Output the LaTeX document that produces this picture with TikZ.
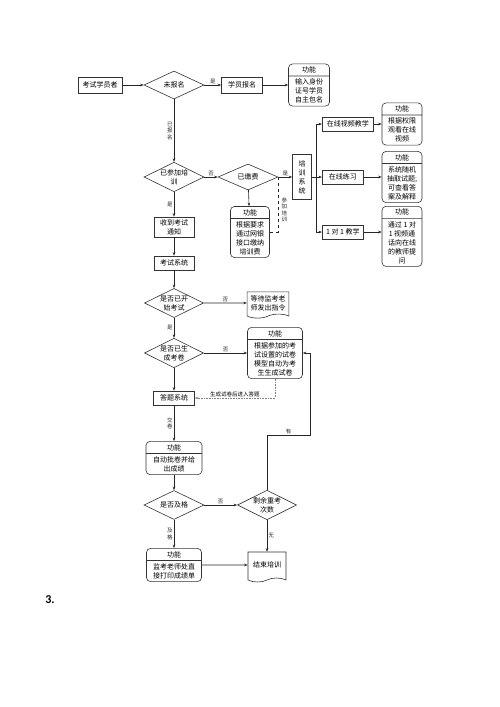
\documentclass[tikz,border=0pt]{standalone}
\usepackage{fontspec}
\setmainfont{Noto Sans CJK SC}
\newfontfamily\numfont{Carlito}
\usetikzlibrary{shapes.geometric,shapes.multipart,shapes.symbols,arrows.meta}
\begin{document}
\begin{tikzpicture}[x=1pt,y=-1pt,>={Stealth[length=3.5pt,width=2.6pt]},font=\fontsize{7}{9}\selectfont]
\useasboundingbox (0,0) rectangle (500,707);
\tikzstyle{s}=[rectangle, draw=black!80, line width=0.6pt, align=center, inner sep=1pt, minimum height=14pt];
\tikzstyle{dia}=[diamond, draw=black!80, line width=0.6pt, align=center, inner sep=0pt, minimum width=60pt, minimum height=28pt, aspect=2];
\tikzstyle{fn}=[rectangle split, rectangle split parts=2, draw=black!80, line width=0.6pt, rounded corners=4pt, align=center, inner xsep=2pt, inner ysep=2.5pt, minimum width=41pt];
\tikzstyle{doc}=[tape, tape bend top=none, tape bend height=4pt, draw=black!80, line width=0.6pt, align=center, minimum width=39pt];
\tikzstyle{lab}=[font=\fontsize{5.5}{6.5}\selectfont, align=center, inner sep=1pt];
\tikzstyle{ln}=[line width=0.6pt, black!85];
\node [s, minimum width=44pt, minimum height=16pt] (v1) at (100,85) {考试学员者};
\node [dia] (v2) at (174,85) {未报名};
\node [s, minimum width=41pt, minimum height=16pt] (v3) at (242,85) {学员报名};
\node [fn] (f1) at (309,85) {功能 \nodepart{two} 输入身份\\证号学员\\自主包名};
\node [dia, minimum height=26pt] (v4) at (174,177) {已参加培\\训};
\node [dia, minimum height=26pt] (v5) at (248,177) {已缴费};
\node [fn, minimum width=39pt] (f2) at (250,232) {功能 \nodepart{two} 根据要求\\通过网银\\接口缴纳\\培训费};
\node [s, minimum width=19pt, minimum height=45pt] (v6) at (302,177) {培\\训\\系\\统};
\node [s, minimum width=51pt, anchor=west] (v7) at (322,124) {在线视频教学};
\node [s, minimum width=41pt, anchor=west] (v8) at (322,177) {在线练习};
\node [s, minimum width=41pt, anchor=west] (v9) at (322,232) {1 对 1 教学};
\node [fn, minimum width=40pt] (f3) at (402,124) {功能 \nodepart{two} 根据权限\\观看在线\\视频};
\node [fn, minimum width=40pt] (f4) at (402,177) {功能 \nodepart{two} 系统随机\\抽取试题;\\可查看答\\案及解释};
\node [fn, minimum width=40pt, anchor=north] (f5) at (402,206) {功能 \nodepart{two} 通过 1 对\\1 视频通\\话向在线\\的教师提\\问};
\node [s, minimum width=40pt, minimum height=20pt] (v10) at (174,227) {收到考试\\通知};
\node [s, minimum width=40pt] (v11) at (174,263) {考试系统};
\node [dia, minimum width=59pt, minimum height=27pt] (v12) at (174,303) {是否已开\\始考试};
\node [doc] (v13) at (268,303) {等待监考老\\师发出指令};
\node [dia, minimum width=59pt, minimum height=27pt] (v14) at (174,353) {是否已生\\成考卷};
\node [fn, minimum width=55pt] (f6) at (275,353) {功能 \nodepart{two} 根据参加的考\\试设置的试卷\\模型自动为考\\生生成试卷};
\node [s, minimum width=41pt] (v15) at (174,398) {答题系统};
\node [fn, minimum width=56pt] (f7) at (174,458) {功能 \nodepart{two} 自动批卷并给\\出成绩};
\node [dia, minimum height=29pt] (v16) at (174,505) {是否及格};
\node [dia, minimum width=59pt, minimum height=29pt] (v17) at (267,505) {剩余重考\\次数};
\node [fn, minimum width=55pt] (f8) at (174,565) {功能 \nodepart{two} 监考老师处直\\接打印成绩单};
\node [doc, minimum width=38pt, minimum height=30pt] (v18) at (267,565) {结束培训};
\node [font=\numfont\bfseries\fontsize{12}{14}\selectfont] (n3) at (50,600) {3.};
\coordinate (j) at (316,177);
\coordinate (c1) at (310,435);
\draw [ln,->] (v1) -- (v2);
\draw [ln,->] (v2) -- node [lab, above] {是} (v3);
\draw [ln,->] (v3) -- (f1);
\draw [ln,->] (v2) -- node [lab, left] {已\\报\\名} (v4);
\draw [ln,->] (v4) -- node [lab, above] {否} (v5);
\draw [ln,->] (v5) -- node [lab, above] {是} (v6);
\draw [ln,->] (v5) -- (f2);
\draw [ln, dashed] (v5.east) |- node [lab, pos=0.3, right, xshift=2pt] {参\\加\\培\\训} (f2.east);
\draw [ln,->] (v6) -- (v8);
\draw [ln,->] (j) |- (v7);
\draw [ln,->] (j) |- (v9);
\draw [ln,->] (v7) -- (f3);
\draw [ln,->] (v8) -- (f4);
\draw [ln,->] (v9) -- (v9 -| f5.west);
\draw [ln,->] (v4) -- node [lab, left] {是} (v10);
\draw [ln,->] (v10) -- (v11);
\draw [ln,->] (v11) -- (v12);
\draw [ln,->] (v12) -- node [lab, above] {否} (v13);
\draw [ln,->] (v12) -- node [lab, left] {是} (v14);
\draw [ln,->] (v14) -- node [lab, above] {否} (f6);
\draw [ln,->] (v14) -- (v15);
\draw [ln, black!50, densely dotted, ->] (f6.south) |- node [lab, black, above, pos=0.75] {生成试卷后进入答题} (v15.east);
\draw [ln,->] (v15) -- node [lab, left] {交\\卷} (f7);
\draw [ln,->] (f7) -- (v16);
\draw [ln,->] (v16) -- node [lab, above] {否} (v17);
\draw [ln,->] (v16) -- node [lab, left] {及\\格} (f8);
\draw [ln,->] (f8) -- (v18);
\draw [ln,->] (v17) -- node [lab, right] {无} (v18);
\draw [ln,->] (v17) |- node [lab, above, pos=0.75] {有} (c1) |- (f6.east);
\end{tikzpicture}
\end{document}
